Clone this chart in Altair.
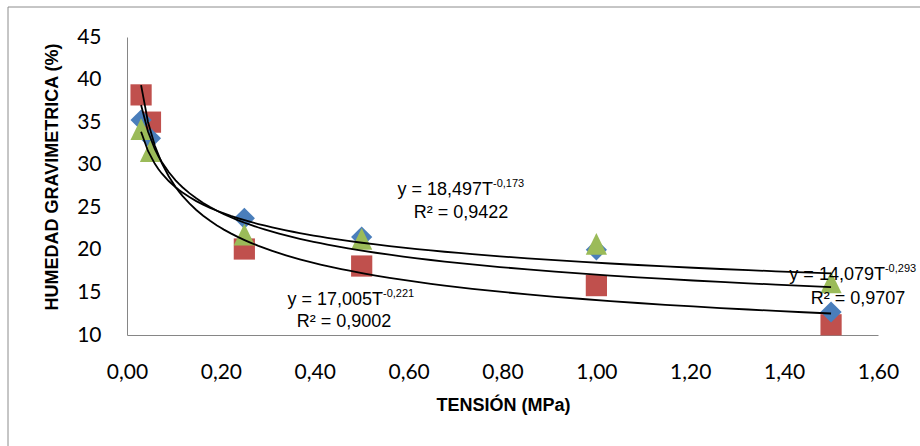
import altair as alt
import pandas as pd

# --- data ---
tension = [0.03, 0.05, 0.25, 0.5, 1.0, 1.5]
serie_azul = [35.25, 33.1, 23.7, 21.5, 20.0, 12.7]
serie_roja = [38.2, 35.0, 20.1, 18.1, 15.8, 11.2]
serie_verde = [34.1, 31.5, 21.7, 21.2, 20.6, 16.1]
series = ["Serie roja", "Serie azul", "Serie verde"]
colores = ["#C0504D", "#4A7EBB", "#9BBB59"]
formas = ["square", "diamond", "M0,-1.1L-1,0.95L1,0.95Z"]

x_ticks = [0.0, 0.2, 0.4, 0.6, 0.8, 1.0, 1.2, 1.4, 1.6]
y_ticks = [10, 15, 20, 25, 30, 35, 40, 45]

# trendline annotations (text as in reference)
eq_text = ["y = 18,497T", "y = 17,005T", "y = 14,079T"]
eq_sup = ["-0,173", "-0,221", "-0,293"]
eq_T = [0.7797, 0.5454, 1.6148]
eq_H = [26.44, 13.52, 16.46]
r2_text = ["R² = 0,9422", "R² = 0,9002", "R² = 0,9707"]
r2_T = [0.7115, 0.4623, 1.5573]
r2_H = [23.74, 10.94, 13.64]

rows = []
for name, vals in zip(series, [serie_roja, serie_azul, serie_verde]):
    for t, h in zip(tension, vals):
        rows.append({"serie": name, "T": t, "H": h})
df = pd.DataFrame(rows)

eq_df = pd.DataFrame({"T": eq_T, "H": eq_H, "txt": eq_text, "sup": eq_sup})
r2_df = pd.DataFrame({"T": r2_T, "H": r2_H, "txt": r2_text})

x_enc = alt.X(
    "T:Q",
    scale=alt.Scale(domain=[0, 1.6], nice=False, zero=False),
    axis=alt.Axis(
        values=x_ticks,
        labelExpr="replace(format(datum.value, '.2f'), '.', ',')",
        title="TENSIÓN (MPa)",
        titleX=376,
        titleY=70,
        titleBaseline="middle",
        titleFontSize=18,
        labelPadding=26,
        labelFlush=False,
    ),
)
y_enc = alt.Y(
    "H:Q",
    scale=alt.Scale(domain=[10, 45], nice=False, zero=False),
    axis=alt.Axis(
        values=y_ticks,
        format="d",
        title="HUMEDAD GRAVIMETRICA (%)",
        titleX=-75,
        titleY=139.5,
        titleBaseline="middle",
        titleFontSize=18,
        labelPadding=26,
        labelFlush=False,
    ),
)

frame = alt.Chart(pd.DataFrame({"a": [0]})).mark_rect(
    fillOpacity=0, stroke="#8C8C8C", strokeWidth=1
).encode(
    x=alt.value(-119), x2=alt.value(900), y=alt.value(-30), y2=alt.value(500)
)

points = alt.Chart(df).mark_point(filled=True, opacity=1, size=450).encode(
    x=x_enc,
    y=y_enc,
    color=alt.Color("serie:N", scale=alt.Scale(domain=series, range=colores), legend=None),
    shape=alt.Shape("serie:N", scale=alt.Scale(domain=series, range=formas), legend=None),
)

trend = alt.Chart(df).transform_regression(
    "T", "H", method="pow", groupby=["serie"]
).mark_line(color="black", strokeWidth=1.8).encode(
    x="T:Q", y="H:Q", detail="serie:N"
)

eq_base = alt.Chart(eq_df).mark_text(
    align="right", baseline="alphabetic", font="Liberation Sans", fontSize=18, color="black"
).encode(x="T:Q", y="H:Q", text="txt:N")

eq_supm = alt.Chart(eq_df).mark_text(
    align="left", baseline="alphabetic", font="Liberation Sans", fontSize=11, color="black", dy=-8
).encode(x="T:Q", y="H:Q", text="sup:N")

r2 = alt.Chart(r2_df).mark_text(
    align="center", baseline="alphabetic", font="Liberation Sans", fontSize=18, color="black"
).encode(x="T:Q", y="H:Q", text="txt:N")

chart = alt.layer(frame, points, trend, eq_base, eq_supm, r2).properties(
    width=751,
    height=298,
    autosize=alt.AutoSizeParams(type="none"),
    padding={"left": 127, "top": 37, "right": 42, "bottom": 111},
    background="white",
).configure_view(
    strokeWidth=0
).configure_axis(
    grid=False,
    ticks=False,
    domainColor="#868686",
    domainWidth=1,
    labelFont="Lato",
    labelFontSize=21,
    labelColor="black",
    titleFont="Liberation Sans",
    titleFontWeight="bold",
    titleColor="black",
)

chart.save("out.html", embed_options={"renderer": "svg", "actions": False})
